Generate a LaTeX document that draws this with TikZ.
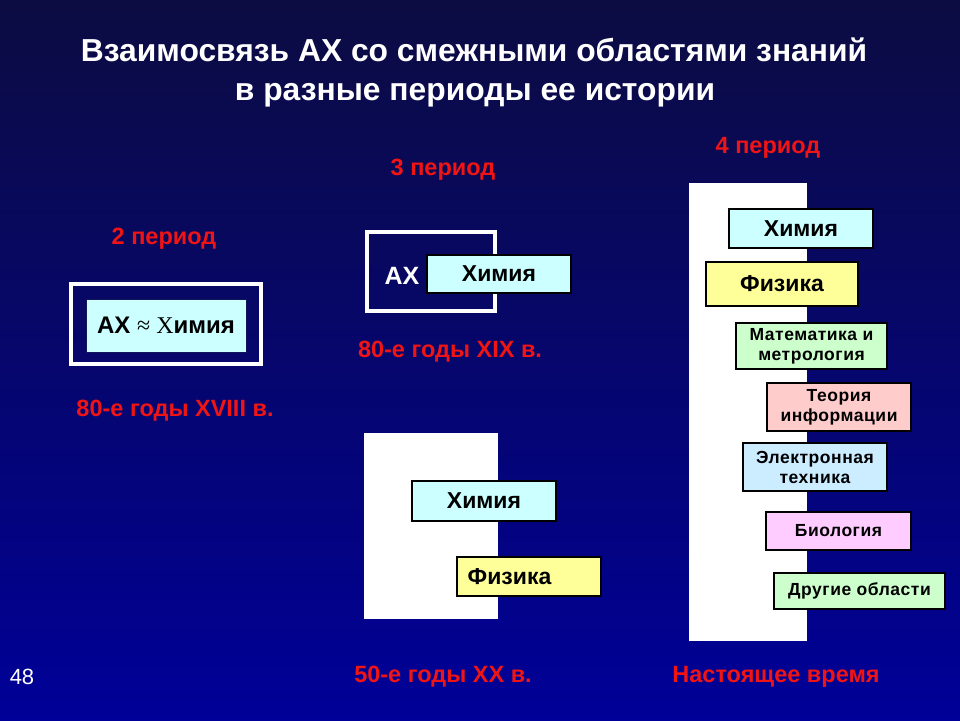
\documentclass[tikz,border=0pt]{standalone}
\usepackage{fontspec}
\setmainfont{Liberation Sans}
\newfontfamily\serifx{Liberation Serif}
\newfontfamily\spaced{Liberation Sans}[LetterSpace=3]
\definecolor{bgtop}{RGB}{12,12,66}
\definecolor{bgbot}{RGB}{0,0,152}
\definecolor{redlbl}{RGB}{240,20,20}
\definecolor{cyanbox}{RGB}{204,255,255}
\definecolor{yelbox}{RGB}{255,255,153}
\definecolor{grnbox}{RGB}{204,255,204}
\definecolor{pinkbox}{RGB}{255,204,204}
\definecolor{bluebox}{RGB}{204,236,255}
\definecolor{magbox}{RGB}{255,204,255}
\definecolor{navyline}{RGB}{20,20,90}
\tikzset{
  box/.style={draw=black, line width=1.6pt, inner sep=0pt, align=center, font=\bfseries},
  bigtxt/.style={font=\fontsize{23}{27}\selectfont\bfseries},
  smalltxt/.style={font=\spaced\fontsize{17.5}{20}\selectfont\bfseries},
  lbl/.style={text=redlbl, font=\fontsize{23.5}{27}\selectfont\bfseries, inner sep=0pt},
  titletext/.style={text=white, font=\fontsize{31.8}{40}\selectfont\bfseries, inner sep=0pt, anchor=base},
  column/.style={fill=white, draw=none},
  frame/.style={draw=white, fill=none}
}
\begin{document}
\begin{tikzpicture}[x=1pt,y=-1pt]
\useasboundingbox (0,0) rectangle (960,720);
\shade[top color=bgtop, bottom color=bgbot] (0,0) rectangle (960,720);

% title
\node[titletext] (t1) at (474,61) {Взаимосвязь АХ со смежными областями знаний};
\node[titletext] (t2) at (475,100) {в разные периоды ее истории};

% period 2
\node[lbl] (p2) at (164,239) {2 период};
\draw[frame, line width=4pt] (71,284) rectangle (261,364);
\node[box, draw=navyline, line width=1pt, fill=cyanbox, minimum width=160pt, minimum height=53pt,
      font=\fontsize{24}{28}\selectfont\bfseries] (ax2) at (166,325.5)
      {АХ {\serifx\mdseries ≈ Х}имия};
\node[lbl] (d2) at (175,411) {80-е годы XVIII в.};

% period 3 top
\node[lbl] (p3) at (443,170) {3 период};
\draw[frame, line width=3.5pt] (367,232) rectangle (495,311);
\node[text=white, font=\fontsize{25}{28}\selectfont\bfseries, inner sep=0pt] (ax3) at (402,276) {АХ};
\node[box, fill=cyanbox, minimum width=144pt, minimum height=38pt, bigtxt] (ch3) at (499,274) {Химия};
\node[lbl] (d3) at (450,352) {80-е годы XIX в.};

% period 3 bottom
\fill[column] (364,433) rectangle (498,619);
\node[box, fill=cyanbox, minimum width=144pt, minimum height=40pt, bigtxt] (ch3b) at (484,501) {Химия};
\node[box, fill=yelbox, minimum width=144pt, minimum height=39pt] (ph3b) at (529,576.5) {};
\node[bigtxt, inner sep=0pt] (ph3bt) at (509.5,577) {Физика};
\node[lbl] (d3b) at (443,677) {50-е годы XX в.};

% period 4
\node[lbl] (p4) at (768,148) {4 период};
\fill[column] (689,183) rectangle (807,641);
\node[box, fill=cyanbox, minimum width=144pt, minimum height=39pt, bigtxt] (ch4) at (801,228.5) {Химия};
\node[box, fill=yelbox, minimum width=152pt, minimum height=44pt, bigtxt] (ph4) at (782,284) {Физика};
\node[box, fill=grnbox, minimum width=151pt, minimum height=46pt, smalltxt] (ma4) at (811.5,346) {Математика и\\метрология};
\node[box, fill=pinkbox, minimum width=144pt, minimum height=48pt, smalltxt] (ti4) at (839,407) {Теория\\информации};
\node[box, fill=bluebox, minimum width=144pt, minimum height=48pt, smalltxt] (el4) at (815,467) {Электронная\\техника};
\node[box, fill=magbox, minimum width=145pt, minimum height=38pt, smalltxt] (bi4) at (838.5,531) {Биология};
\node[box, fill=grnbox, minimum width=171pt, minimum height=36pt, smalltxt] (dr4) at (859.5,591) {Другие области};
\node[lbl] (d4) at (776,677) {Настоящее время};

% page number
\node[text=white, font=\fontsize{22}{26}\selectfont, inner sep=0pt] (pg) at (22,677) {48};
\end{tikzpicture}
\end{document}
